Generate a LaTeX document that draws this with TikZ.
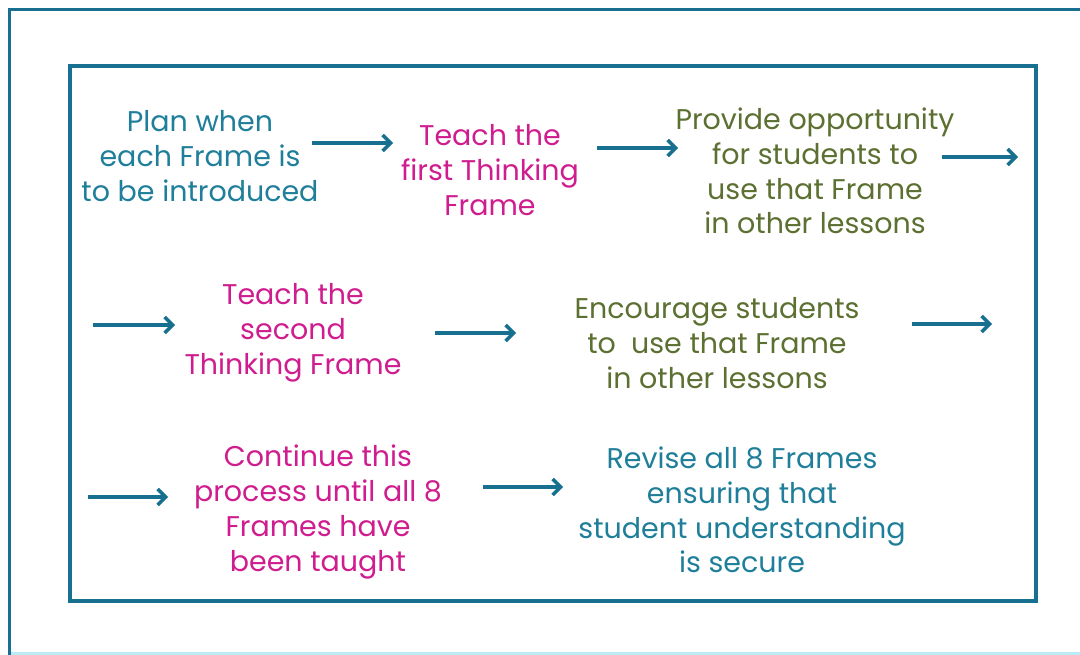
\documentclass[tikz,border=0pt]{standalone}
\usepackage{fontspec}
\setmainfont{Poppins}
\usepackage{tikz}
\usetikzlibrary{arrows.meta, positioning, calc}

\definecolor{tealtext}{HTML}{1F7E99}
\definecolor{tealline}{HTML}{17708F}
\definecolor{magtext}{HTML}{CF1C8E}
\definecolor{olivetext}{HTML}{5C7031}
\definecolor{lightcyan}{HTML}{BDEBF5}

\tikzset{
    stagetext/.style={align=center, inner sep=0pt, font=\fontsize{28.5}{34.8}\selectfont},
    flow/.style={-{Straight Barb[length=8pt, width=16pt, line width=3.5pt]}, line width=3.5pt, tealline},
}

\begin{document}
\begin{tikzpicture}[x=1pt, y=-1pt]
        \useasboundingbox (0,0) rectangle (1080,655);

        % outer frame
        \coordinate (O1) at (9,655);
        \coordinate (O2) at (9,10);
        \coordinate (O3) at (1080,10);
        \draw[tealline, line width=3pt] (O1) -- (O2) -- (O3);
        \coordinate (O4) at (11,653);
        \coordinate (O5) at (1080,653);
        \draw[lightcyan, line width=3pt] (O4) -- (O5);

        % inner frame
        \coordinate (A) at (70,66);
        \coordinate (B) at (1036,601);
        \draw[tealline, line width=3.5pt] (A) rectangle (B);

        % row 1
        \node[stagetext, tealtext] (plan) at (200,156) {Plan when\\each Frame is\\to be introduced};
        \node[stagetext, magtext] (first) at (490,170) {Teach the\\first Thinking\\Frame};
        \node[stagetext, olivetext] (provide) at (815,171) {Provide opportunity\\for students to\\use that Frame\\in other lessons};

        % row 2
        \node[stagetext, magtext] (second) at (293,333) {Teach the\\second\\Thinking Frame};
        \node[stagetext, olivetext] (encourage) at (717,343) {Encourage students\\to\ \ use that Frame\\in other lessons};

        % row 3
        \node[stagetext, magtext] (continue) at (318,512) {Continue this\\process until all 8\\Frames have\\been taught};
        \node[stagetext, tealtext] (revise) at (742,510) {Revise all 8 Frames\\ensuring that\\student understanding\\is secure};

        % arrows
        \coordinate (a1s) at (312,143);
        \coordinate (a1e) at (393,143);
        \coordinate (a2s) at (597,148);
        \coordinate (a2e) at (678,148);
        \coordinate (a3s) at (942,157);
        \coordinate (a3e) at (1018,157);
        \coordinate (a4s) at (93,325);
        \coordinate (a4e) at (175,325);
        \coordinate (a5s) at (435,333);
        \coordinate (a5e) at (516,333);
        \coordinate (a6s) at (912,324);
        \coordinate (a6e) at (992,324);
        \coordinate (a7s) at (88,497);
        \coordinate (a7e) at (168,497);
        \coordinate (a8s) at (483,487);
        \coordinate (a8e) at (563,487);

        \foreach \i in {1,...,8}
            \draw[flow] (a\i s) -- (a\i e);

\end{tikzpicture}
\end{document}
